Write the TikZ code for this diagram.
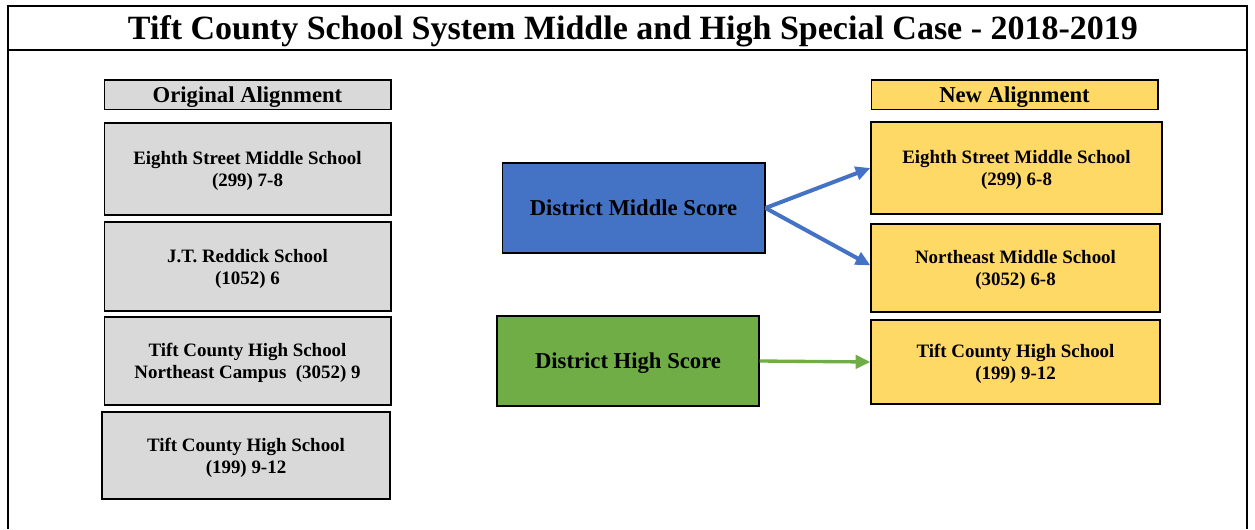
\documentclass[tikz,border=0pt]{standalone}
\usepackage{fontspec}
\setmainfont{Liberation Serif}
\usetikzlibrary{arrows.meta}
\definecolor{boxgray}{HTML}{D9D9D9}
\definecolor{boxgold}{HTML}{FFD966}
\definecolor{scoreblue}{HTML}{4472C4}
\definecolor{scoregreen}{HTML}{70AD47}

\begin{document}
\begin{tikzpicture}[x=0.75pt,y=-0.75pt,thick,>={Triangle[length=11pt,width=10pt]}]

\tikzstyle{every node}=[inner sep=0pt,align=center]
\tikzstyle{school}=[draw,line width=1pt,minimum width=215pt,text depth=0pt,font=\bfseries\fontsize{14.2}{16.5}\selectfont]
\tikzstyle{header}=[draw,line width=1pt,minimum width=215pt,minimum height=22pt,text depth=0pt,font=\bfseries\fontsize{17}{19}\selectfont]
\tikzstyle{score}=[draw,line width=1pt,minimum width=197pt,minimum height=67.5pt,text depth=0pt,font=\bfseries\fontsize{17}{19}\selectfont]
\tikzstyle{link}=[->,line width=3pt]

\useasboundingbox (0,0) rectangle (1255,529);

% frame and title
\draw[line width=2.2pt] (8,529) -- (8,6) -- (1247,6) -- (1247,529);
\draw[line width=1.6pt] (8,50) -- (1247,50);
\node (title) at (633,31) {\bfseries\fontsize{25.5}{28}\selectfont Tift County School System Middle and High Special Case - 2018-2019};

% original alignment
\node[header,fill=boxgray] (oldhead) at (247.5,94.5) {Original Alignment};
\node[school,fill=boxgray,minimum height=69pt] (oldeighth) at (247.5,169) {Eighth Street Middle School\\(299) 7-8};
\node[school,fill=boxgray,minimum height=66.75pt] (oldreddick) at (247.5,266.5) {J.T. Reddick School\\(1052) 6};
\node[school,fill=boxgray,minimum height=66pt] (oldnortheast) at (247.5,361) {Tift County High School\\Northeast Campus\ \ (3052) 9};
\node[school,fill=boxgray,minimum height=65.25pt,minimum width=216pt] (oldhigh) at (246,455.5) {Tift County High School\\(199) 9-12};

% new alignment
\node[header,fill=boxgold] (newhead) at (1014.5,94.5) {New Alignment};
\node[school,fill=boxgold,minimum height=69pt,minimum width=218.25pt] (neweighth) at (1016.5,168) {Eighth Street Middle School\\(299) 6-8};
\node[school,fill=boxgold,minimum height=66pt,minimum width=216.75pt] (newnortheast) at (1015.5,268) {Northeast Middle School\\(3052) 6-8};
\node[school,fill=boxgold,minimum height=63pt,minimum width=216.75pt] (newhigh) at (1015.5,362) {Tift County High School\\(199) 9-12};

% district scores
\node[score,fill=scoreblue] (middle) at (633.5,208) {District Middle Score};
\node[score,fill=scoregreen,minimum width=196.5pt] (high) at (628,361) {District High Score};

\draw[link,scoreblue] (middle.east) -- (neweighth.west);
\draw[link,scoreblue] (middle.east) -- ([yshift=2pt]newnortheast.west);
\draw[link,scoregreen,line width=2.5pt] (high.east) -- (newhigh.west);
\end{tikzpicture}
\end{document}
